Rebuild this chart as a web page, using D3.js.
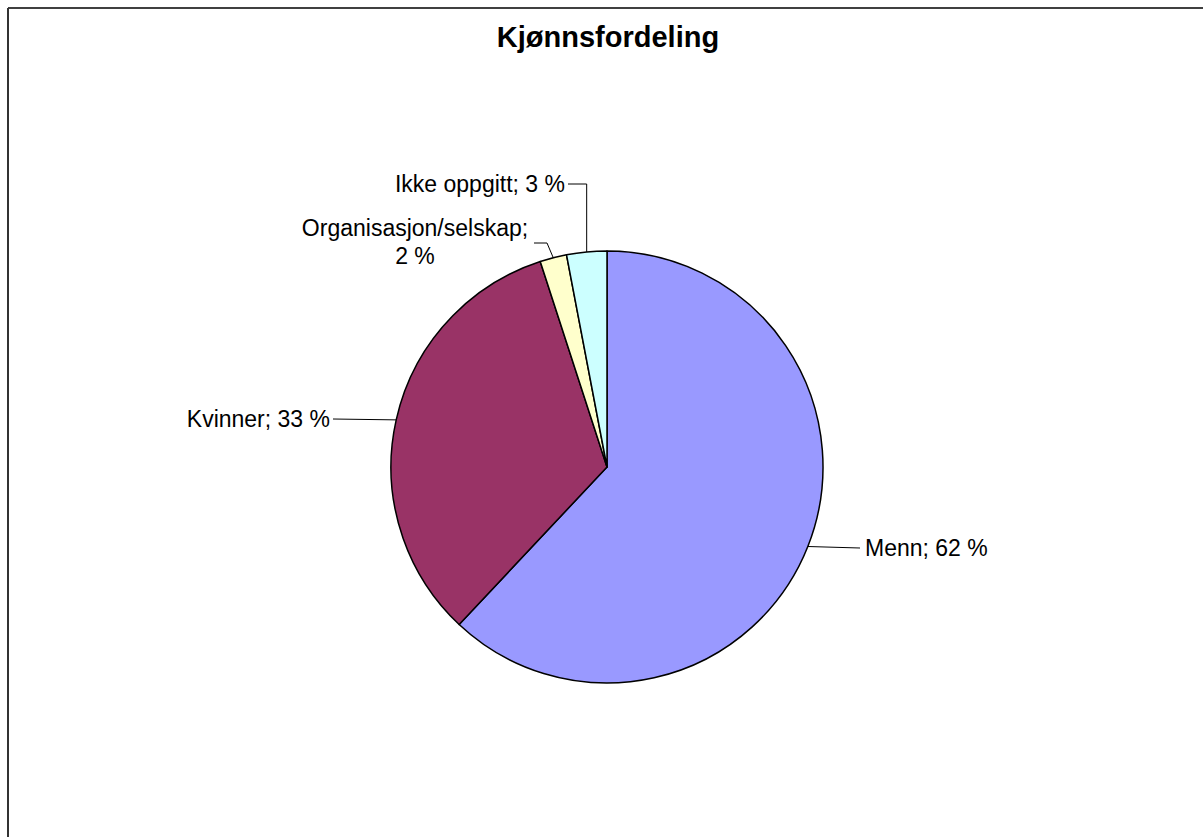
<!DOCTYPE html>
<html><head><meta charset="utf-8">
<script src="https://cdn.jsdelivr.net/npm/d3@7/dist/d3.min.js"></script>
<style>html,body{margin:0;padding:0;background:#fff;}svg{display:block;}</style>
</head><body>
<svg id="c" width="1203" height="837"></svg>
<script>
const categories = ["Menn", "Kvinner", "Organisasjon/selskap", "Ikke oppgitt"];
const values = [62, 33, 2, 3];
const colors = ["#9999FF", "#993366", "#FFFFCC", "#CCFFFF"];
const labelTexts = [["Menn; 62 %"], ["Kvinner; 33 %"], ["Organisasjon/selskap;", "2 %"], ["Ikke oppgitt; 3 %"]];
const title = "Kjønnsfordeling";

const W = 1203, H = 837;
const cx = 607, cy = 467, R = 216;
const svg = d3.select("#c");
const font = "'Liberation Sans', Arial, sans-serif";

// frame
svg.append("line").attr("x1", 8).attr("y1", 8).attr("x2", W).attr("y2", 8).attr("stroke", "#000").attr("stroke-width", 1.5);
svg.append("line").attr("x1", 8).attr("y1", 8).attr("x2", 8).attr("y2", H).attr("stroke", "#333").attr("stroke-width", 2);

svg.append("text").attr("x", 608).attr("y", 47).attr("text-anchor", "middle")
  .attr("font-family", font).attr("font-weight", "bold").attr("font-size", 29).text(title);

const data = categories.map((c, i) => ({name: c, value: values[i], color: colors[i], lines: labelTexts[i]}));
const pie = d3.pie().sort(null).value(d => d.value).startAngle(0).endAngle(2 * Math.PI);
const arcs = pie(data);
const arc = d3.arc().innerRadius(0).outerRadius(R);

const g = svg.append("g").attr("transform", `translate(${cx},${cy})`);
g.selectAll("path").data(arcs).join("path")
  .attr("d", arc).attr("fill", d => d.data.color)
  .attr("stroke", "#000").attr("stroke-width", 1.5).attr("stroke-linejoin", "round");

// label layout (leader elbow / end points and text anchor)
const layout = [
  {pts: [[860, 548]], tx: 865, ty: 548, anchor: "start"},
  {pts: [[333, 419]], tx: 330, ty: 419, anchor: "end"},
  {pts: [[547, 243], [534, 243]], tx: 415, ty: 228, anchor: "middle", lh: 28},
  {pts: "elbow", ey: 184, ex: 568, tx: 565, ty: 184, anchor: "end"}
];

arcs.forEach((a, i) => {
  const mid = (a.startAngle + a.endAngle) / 2;
  const px = cx + R * Math.sin(mid), py = cy - R * Math.cos(mid);
  const L = layout[i];
  let pts;
  if (L.pts === "elbow") pts = [[px, py], [px, L.ey], [L.ex, L.ey]];
  else pts = [[px, py], ...L.pts];
  svg.append("path").attr("d", d3.line()(pts)).attr("fill", "none").attr("stroke", "#000").attr("stroke-width", 1);
  const t = svg.append("text").attr("font-family", font).attr("font-size", 23).attr("fill", "#000")
    .attr("text-anchor", L.anchor);
  a.data.lines.forEach((ln, k) => {
    t.append("tspan").attr("x", L.tx).attr("y", L.ty + k * (L.lh || 0)).attr("dy", "0.35em").text(ln);
  });
});
</script>
</body></html>
